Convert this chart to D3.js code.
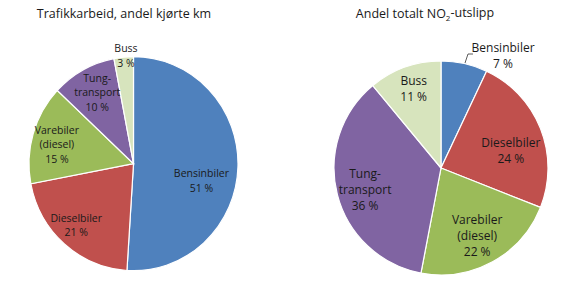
<!DOCTYPE html>
<html>
<head>
<meta charset="utf-8">
<script src="https://cdn.jsdelivr.net/npm/d3@7"></script>
<style>
  body { margin: 0; background: #fff; }
  text { font-family: "Open Sans", "Noto Sans", sans-serif; fill: #1a1a1a; }
</style>
</head>
<body>
<svg id="chart" width="570" height="288"></svg>
<script>
// categories + values
var kmCategories = ["Bensinbiler", "Dieselbiler", "Varebiler (diesel)", "Tungtransport", "Buss"];
var kmValues = [51, 21, 15, 10, 3];

var no2Categories = ["Bensinbiler", "Dieselbiler", "Varebiler (diesel)", "Tungtransport", "Buss"];
var no2Values = [7, 24, 22, 36, 11];

// label text lines per slice
var labelLines = [["Bensinbiler"], ["Dieselbiler"], ["Varebiler", "(diesel)"], ["Tung-", "transport"], ["Buss"]];

var colors = ["#4f81bd", "#c0504d", "#9bbb59", "#8064a2", "#d7e4bd"];

var svg = d3.select("#chart");

// label placement, polar (degrees clockwise from 12 o'clock, distance from centre)
var kmLabelPos = [[104, 70], [223, 84], [284, 79], [333, 80], [356, 108]];
var no2LabelPos = [[29, 128], [76, 72], [152, 77], [254, 79], [341, 84]];

function drawPie(opts) {
  var g = svg.append("g").attr("transform", "translate(" + opts.cx + "," + opts.cy + ")");

  var pie = d3.pie().sort(null).value(function(d) { return d; });
  var arc = d3.arc().innerRadius(0).outerRadius(opts.r);
  var arcs = pie(opts.values);

  g.append("g")
    .attr("transform", "scale(1," + opts.sy + ")")
    .selectAll("path")
    .data(arcs)
    .enter().append("path")
    .attr("d", arc)
    .attr("fill", function(d, i) { return colors[i]; })
    .attr("stroke", "#fff")
    .attr("stroke-width", 1.2);

  arcs.forEach(function(d, i) {
    var p = opts.labelPos[i];
    var pt = d3.pointRadial(p[0] * Math.PI / 180, p[1]);
    var lines = labelLines[i].concat([opts.values[i] + " %"]);
    var t = g.append("text")
      .attr("text-anchor", "middle")
      .attr("font-size", opts.fs);
    var y0 = pt[1] - (lines.length - 1) * opts.lh / 2;
    lines.forEach(function(l, j) {
      t.append("tspan")
        .attr("x", pt[0])
        .attr("y", y0 + j * opts.lh)
        .attr("dy", "0.35em")
        .text(l);
    });
  });

  if (opts.leader) {
    g.append("path")
      .attr("d", d3.line()(opts.leader))
      .attr("fill", "none")
      .attr("stroke", "#333")
      .attr("stroke-width", 0.8);
  }

  var title = svg.append("text")
    .attr("x", opts.tx)
    .attr("y", 14)
    .attr("dy", "0.35em")
    .attr("text-anchor", "middle")
    .attr("font-size", 12.5);
  opts.title(title);
}

drawPie({
  cx: 133.5, cy: 163.7, r: 104.5, sy: 1.024,
  values: kmValues, labelPos: kmLabelPos, fs: 10.5, lh: 14.5,
  tx: 124,
  title: function(t) { t.text("Trafikkarbeid, andel kjørte km"); }
});

drawPie({
  cx: 441, cy: 168, r: 107, sy: 1,
  values: no2Values, labelPos: no2LabelPos, fs: 12, lh: 16,
  tx: 425,
  leader: [[24, -105], [27, -114], [32, -114]],
  title: function(t) {
    t.append("tspan").text("Andel totalt NO");
    t.append("tspan").attr("font-size", 8).attr("dy", "0.3em").text("2");
    t.append("tspan").attr("dy", "-0.3em").text("-utslipp");
  }
});
</script>
</body>
</html>
